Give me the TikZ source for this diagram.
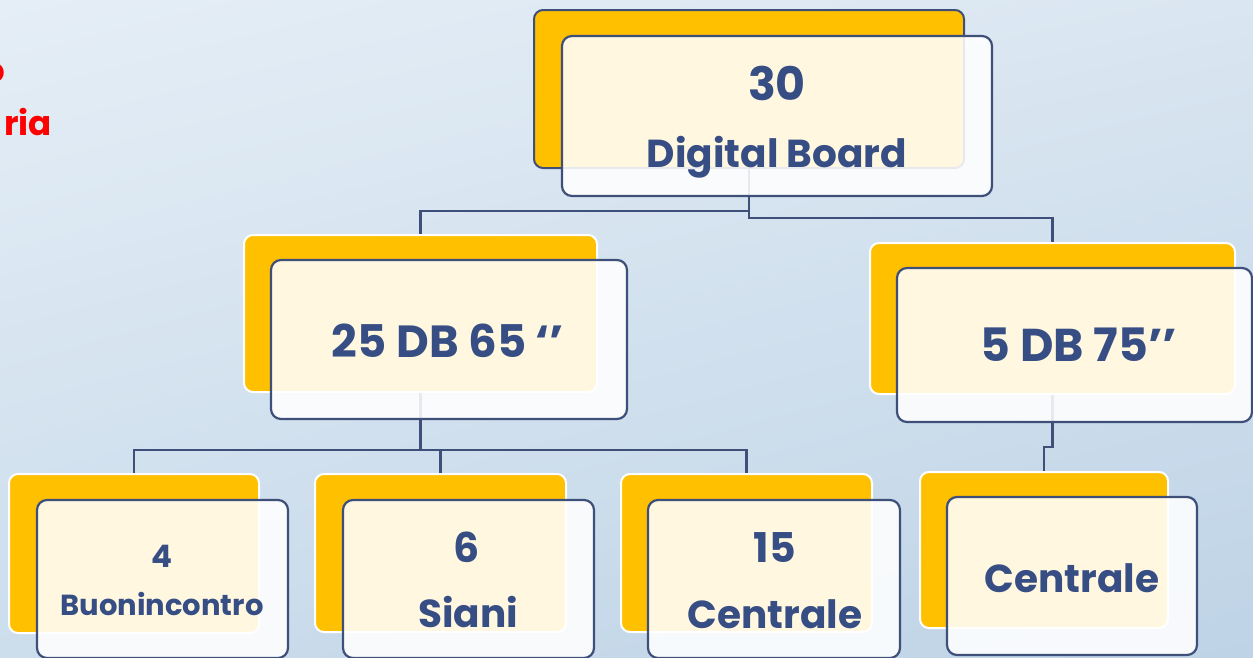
\documentclass[tikz,border=0pt]{standalone}
\usepackage{fontspec}
\usetikzlibrary{shadings}
\setmainfont{Poppins}
\definecolor{navy}{HTML}{364E84}
\definecolor{edge}{HTML}{3E4F7A}
\definecolor{gold}{HTML}{FFC000}
\definecolor{bgA}{HTML}{E5EEF6}
\definecolor{bgB}{HTML}{DAE6F1}
\definecolor{bgC}{HTML}{CCDDEC}
\definecolor{bgD}{HTML}{BED3E6}
\tikzset{
  backbox/.style={draw=white, line width=2pt, fill=gold, rounded corners=9pt, inner sep=0pt, anchor=center},
  frontbox/.style={draw=edge, line width=2.2pt, fill=white, fill opacity=0.88, draw opacity=1, rounded corners=10pt, inner sep=0pt, anchor=center},
  link/.style={draw=edge, line width=2.4pt},
  lbl/.style={text=navy, font=\bfseries, inner sep=0pt, anchor=base}
}
\begin{document}
\begin{tikzpicture}[x=1pt, y=-1pt]
\clip (0,0) rectangle (1253,657);
\shade[upper left=bgA, upper right=bgB, lower left=bgC, lower right=bgD] (0,0) rectangle (1253,657);
% red cut-off text
\node[text=red, font=\bfseries\fontsize{34}{34}\selectfont, inner sep=0pt, anchor=base east] (redo) at (5,82) {o};
\node[text=red, font=\bfseries\fontsize{34}{34}\selectfont, inner sep=0pt, anchor=base east] (redria) at (52,135) {ria};
% back boxes
\node[backbox, draw=edge, minimum width=430pt, minimum height=158pt] (bA) at (749,89) {};
\node[backbox, minimum width=353pt, minimum height=157pt] (bB) at (420.5,313.5) {};
\node[backbox, minimum width=365pt, minimum height=151pt] (bC) at (1052.5,318.5) {};
\node[backbox, minimum width=250pt, minimum height=159pt] (bD) at (134,553.5) {};
\node[backbox, minimum width=251pt, minimum height=158pt] (bE) at (440.5,553) {};
\node[backbox, minimum width=251pt, minimum height=158pt] (bF) at (746.5,553) {};
\node[backbox, minimum width=248pt, minimum height=156pt] (bG) at (1044,550) {};
% connectors
\coordinate (jA) at (749,211);
\coordinate (jA2) at (749,218);
\draw[link] (bA.south) -- (jA) -| (bB.north);
\draw[link] (jA) -- (jA2) -| (bC.north);
\coordinate (jB) at (420.5,450);
\draw[link] (bB.south) -- (jB) -| (bD.north);
\draw[link] (jB) -| (bE.north);
\draw[link] (jB) -| (bF.north);
\coordinate (jC) at (1052.5,447);
\draw[link] (bC.south) -- (jC) -| (bG.north);
% front boxes
\node[frontbox, minimum width=430pt, minimum height=160pt] (fA) at (777,116) {};
\node[frontbox, minimum width=356pt, minimum height=159pt] (fB) at (449,339.5) {};
\node[frontbox, minimum width=355pt, minimum height=154pt] (fC) at (1074.5,345) {};
\node[frontbox, minimum width=251pt, minimum height=158pt] (fD) at (162.5,579) {};
\node[frontbox, minimum width=251pt, minimum height=158pt] (fE) at (468.5,579) {};
\node[frontbox, minimum width=252pt, minimum height=158pt] (fF) at (774,579) {};
\node[frontbox, minimum width=250pt, minimum height=158pt] (fG) at (1072,576) {};
% labels
\node[lbl, font=\bfseries\fontsize{46}{46}\selectfont] (tA1) at (777,100) {30};
\node[lbl, font=\bfseries\fontsize{39}{39}\selectfont] (tA2) at (777,167) {Digital Board};
\node[lbl, font=\bfseries\fontsize{45}{45}\selectfont] (tB) at (448,357) {25 DB 65 ‘’};
\node[lbl, font=\bfseries\fontsize{46}{46}\selectfont] (tC) at (1079,361) {5 DB 75’’};
\node[lbl, font=\bfseries\fontsize{31}{31}\selectfont] (tD1) at (162,567) {4};
\node[lbl, font=\bfseries\fontsize{29}{29}\selectfont] (tD2) at (162,615) {Buonincontro};
\node[lbl, font=\bfseries\fontsize{41}{41}\selectfont] (tE1) at (467,562) {6};
\node[lbl, font=\bfseries\fontsize{39}{39}\selectfont] (tE2) at (468,627) {Siani};
\node[lbl, font=\bfseries\fontsize{41}{41}\selectfont] (tF1) at (775,562) {15};
\node[lbl, font=\bfseries\fontsize{39}{39}\selectfont] (tF2) at (775,628) {Centrale};
\node[lbl, font=\bfseries\fontsize{39}{39}\selectfont] (tG) at (1072,592) {Centrale};
\end{tikzpicture}
\end{document}
